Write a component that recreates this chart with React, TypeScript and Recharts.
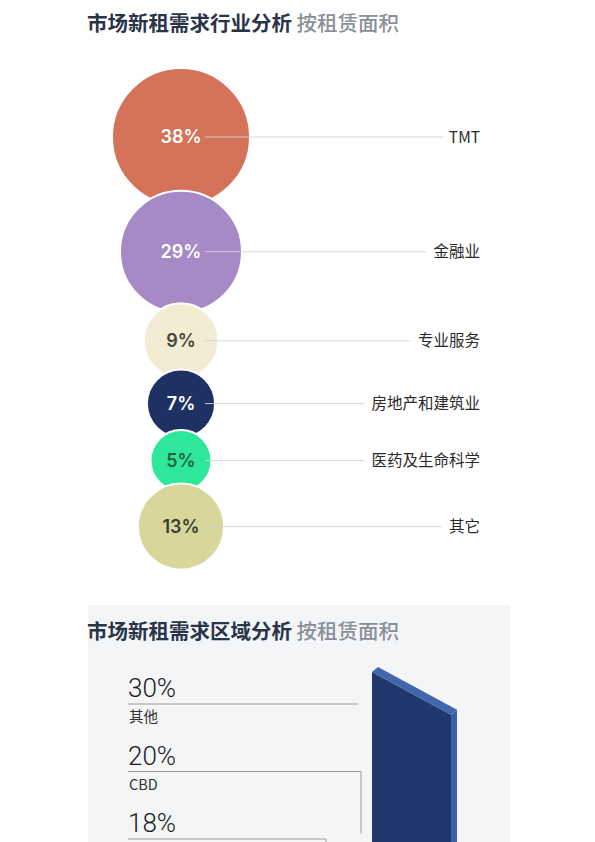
import { ScatterChart, Scatter, XAxis, YAxis, ZAxis, BarChart, Bar } from "recharts";

// industry split (bubble chart)
const industries = ["TMT", "金融业", "专业服务", "房地产和建筑业", "医药及生命科学", "其它"];
const industryShares = [38, 29, 9, 7, 5, 13];
const industryColors = ["#d4735a", "#a68ac6", "#f1ecd3", "#1f3163", "#2fe79b", "#d9d69c"];
const industryTextColors = ["#ffffff", "#ffffff", "#45463a", "#ffffff", "#23643f", "#3b3d2c"];

// region split (bar section, cut off at the page bottom)
const regionNames = ["其他", "CBD"];
const regionShares = [30, 20, 18];

// bubble sizing, shared by ZAxis and the stacking below
const Z_DOMAIN = [5, 38];
const Z_RANGE = [Math.PI * 30.5 * 30.5, Math.PI * 69 * 69];
const areaOf = (v: number) =>
  Z_RANGE[0] + ((v - Z_DOMAIN[0]) / (Z_DOMAIN[1] - Z_DOMAIN[0])) * (Z_RANGE[1] - Z_RANGE[0]);
const radiusOf = (v: number) => Math.sqrt(areaOf(v) / Math.PI);

const STACK_TOP = 68;
const OVERLAP = 0.25;
const LABEL_RIGHT = 480;
const LABEL_SIZE = 15.5;

// circles are stacked top-down, each one slightly overlapping the previous
const bubbleData = (() => {
  const out: any[] = [];
  let prevY = 0;
  let prevR = 0;
  industries.forEach((name, i) => {
    const r = radiusOf(industryShares[i]);
    const y = i === 0 ? STACK_TOP + r : prevY + prevR + r - OVERLAP * Math.min(prevR, r);
    out.push({
      name,
      share: industryShares[i],
      col: 0,
      y,
      fill: industryColors[i],
      textFill: industryTextColors[i],
    });
    prevY = y;
    prevR = r;
  });
  return out;
})();

const textWidth = (s: string, size: number) =>
  Array.from(s).reduce((w, ch) => w + (ch.charCodeAt(0) > 0x2e80 ? 1 : 0.64) * size, 0);

function Bubble(props: any) {
  const { cx, cy, width, payload } = props;
  const r = width ? width / 2 : radiusOf(payload.share);
  const labelW = textWidth(payload.name, LABEL_SIZE);
  return (
    <g>
      <circle cx={cx} cy={cy} r={r} fill={payload.fill} stroke="#ffffff" strokeWidth={2} />
      <line
        x1={cx + 24}
        x2={LABEL_RIGHT - labelW - 7}
        y1={cy}
        y2={cy}
        stroke="#d4d4d4"
        strokeOpacity={0.9}
        strokeWidth={1}
      />
      <text
        x={cx}
        y={cy}
        dy="0.36em"
        textAnchor="middle"
        fill={payload.textFill}
        fontFamily="Inter, 'Noto Sans', sans-serif"
        fontWeight={600}
        fontSize={18}
      >
        {payload.share}%
      </text>
      <text
        x={LABEL_RIGHT}
        y={cy}
        dy="0.36em"
        textAnchor="end"
        fill="#2a2a2a"
        fontFamily="'Noto Sans CJK SC', sans-serif"
        fontSize={LABEL_SIZE}
      >
        {payload.name}
      </text>
    </g>
  );
}

// isometric-looking column: slanted top band, light right edge
function Column(props: any) {
  const { x, y, width, height } = props;
  if (!height || height <= 0) return null;
  const d = 6;
  const s = 0.54;
  const bottom = y + height;
  const p1 = [x, y + 5];
  const p2 = [x + d, y];
  const p3 = [x + width, y + s * (width - d)];
  const p4 = [x + width - d, y + 5 + s * (width - d)];
  const pts = (a: number[][]) => a.map((p) => p.join(",")).join(" ");
  return (
    <g>
      <polygon points={pts([p1, p4, [x + width - d, bottom], [x, bottom]])} fill="#1f386d" />
      <polygon points={pts([p4, p3, [x + width, bottom], [x + width - d, bottom]])} fill="#3d5fa3" />
      <polygon points={pts([p1, p2, p3, p4])} fill="#4266ab" />
    </g>
  );
}

const regionBars = [{ name: regionNames[0], share: regionShares[0] }];
const leaderEnds = [358, 361, 326];

function Title({ top, main }: { top: number; main: string }) {
  return (
    <div
      style={{
        position: "absolute",
        left: 87,
        top,
        fontSize: 20.5,
        lineHeight: "21px",
        whiteSpace: "nowrap",
        fontFamily: "'Noto Sans CJK SC', sans-serif",
      }}
    >
      <span style={{ color: "#2a3449", fontWeight: 700 }}>{main}</span>
      <span style={{ color: "#8a9099", fontWeight: 500 }}> 按租赁面积</span>
    </div>
  );
}

export default function App() {
  return (
    <div
      style={{
        position: "relative",
        width: 603,
        height: 850,
        margin: -8,
        overflow: "hidden",
        background: "#ffffff",
      }}
    >
      <Title top={12} main="市场新租需求行业分析" />

      <div style={{ position: "absolute", left: 0, top: 0 }}>
        <ScatterChart width={595} height={600} margin={{ top: 0, right: 233, bottom: 0, left: 0 }}>
          <XAxis type="number" dataKey="col" domain={[-1, 1]} hide />
          <YAxis type="number" dataKey="y" domain={[0, 600]} reversed hide />
          <ZAxis type="number" dataKey="share" domain={Z_DOMAIN} range={Z_RANGE} />
          <Scatter data={bubbleData} shape={(p: any) => <Bubble {...p} />} isAnimationActive={false} />
        </ScatterChart>
      </div>

      {/* region section */}
      <div
        style={{
          position: "absolute",
          left: 88,
          top: 605,
          width: 422,
          height: 300,
          background: "#f3f5f6",
        }}
      />
      <Title top={620} main="市场新租需求区域分析" />

      <div style={{ position: "absolute", left: 0, top: 642 }}>
        <BarChart
          width={595}
          height={400}
          data={regionBars}
          barCategoryGap={0}
          margin={{ top: 0, right: 130, bottom: 0, left: 364 }}
        >
          <XAxis dataKey="name" type="category" hide />
          <YAxis type="number" domain={[0, 32]} hide />
          <Bar dataKey="share" barSize={85} shape={(p: any) => <Column {...p} />} isAnimationActive={false} />
        </BarChart>
      </div>

      <svg width={595} height={850} style={{ position: "absolute", left: 0, top: 0 }}>
        {regionShares.map((v, i) => {
          const lineY = 704 + i * 67.5;
          return (
            <g key={i}>
              <text
                x={128}
                y={lineY - 7}
                fill="#1c1c1c"
                fontFamily="Roboto, sans-serif"
                fontWeight={300}
                fontSize={26}
              >
                {v}%
              </text>
              <polyline
                points={
                  i === 0
                    ? `128,${lineY} ${leaderEnds[i]},${lineY}`
                    : `128,${lineY} ${leaderEnds[i]},${lineY} ${leaderEnds[i]},${lineY + 62}`
                }
                fill="none"
                stroke="#9a9a9a"
                strokeWidth={1}
              />
              {regionNames[i] && (
                <text
                  x={129}
                  y={lineY + 18}
                  fill="#333333"
                  fontFamily="'Noto Sans CJK SC', sans-serif"
                  fontSize={14.5}
                >
                  {regionNames[i]}
                </text>
              )}
            </g>
          );
        })}
      </svg>
    </div>
  );
}
